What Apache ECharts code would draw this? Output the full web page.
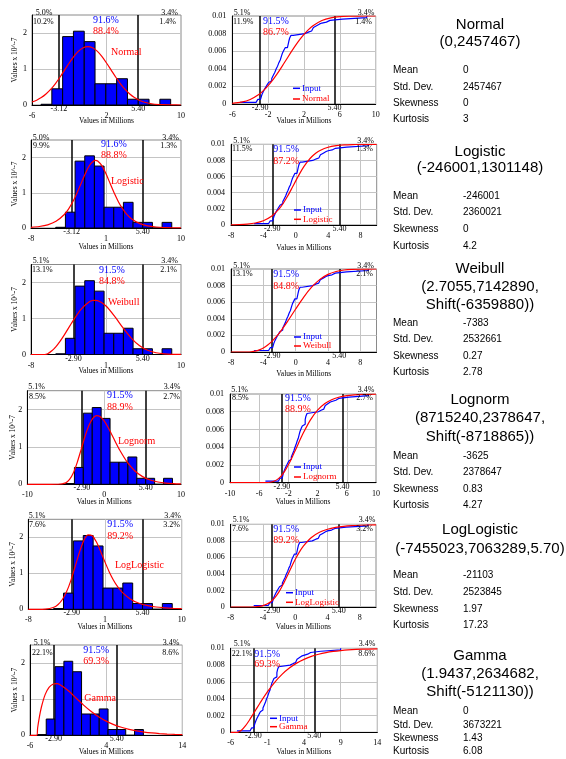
<!DOCTYPE html>
<html><head><meta charset="utf-8">
<script src="https://cdn.jsdelivr.net/npm/echarts@6/dist/echarts.min.js"></script>
<style>html,body{margin:0;padding:0;background:#fff}#c{width:566px;height:759px}</style>
</head><body><div id="c"></div>
<script>
// ================= DATA =================
const distNames = ['Normal','Logistic','Weibull','Lognorm','LogLogistic','Gamma'];
const distParams = [
  ['(0,2457467)'],
  ['(-246001,1301148)'],
  ['(2.7055,7142890,','Shift(-6359880))'],
  ['(8715240,2378647,','Shift(-8718865))'],
  ['(-7455023,7063289,5.70)'],
  ['(1.9437,2634682,','Shift(-5121130))']
];
const statLabels = ['Mean','Std. Dev.','Skewness','Kurtosis'];
const statValues = [
  ['0','2457467','0','3'],
  ['-246001','2360021','0','4.2'],
  ['-7383','2532661','0.27','2.78'],
  ['-3625','2378647','0.83','4.27'],
  ['-21103','2523845','1.97','17.23'],
  ['0','3673221','1.43','6.08']
];

// histogram of the input (x in millions, density in 10^-7)
const histEdges   = [-5.03,-3.87,-2.71,-1.55,-0.39,0.77,1.93,3.09,4.25,5.41,6.57,7.73,8.89];
const histHeights = [0.02,0.45,1.90,2.05,1.76,0.59,0.59,0.73,0.16,0.16,0.00,0.16];

// empirical (input) cumulative curve
const inputCdf = [[-5.15,0.00018],[-3.35,0.00035],[-3.15,0.00052],[-2.85,0.0007],[-2.7,0.00105],[-2.55,0.0014],[-2.4,0.0017],[-2.25,0.00195],[-2.1,0.0022],[-1.95,0.00245],[-1.8,0.00265],[-1.6,0.0029],[-1.45,0.0032],[-1.25,0.0036],[-1.1,0.004],[-0.95,0.0043],[-0.8,0.0047],[-0.65,0.005],[-0.5,0.0055],[-0.4,0.0058],[-0.25,0.0061],[-0.1,0.0064],[0.15,0.0066],[0.3,0.0071],[0.4,0.0075],[0.55,0.0078],[0.8,0.008],[2.1,0.0081],[2.3,0.0082],[2.55,0.0083],[2.85,0.0085],[3.05,0.0087],[3.15,0.0089],[3.4,0.0091],[3.75,0.0092],[4.0,0.0093],[4.5,0.0095],[4.9,0.00965],[6.3,0.00982],[9.0,0.01]];

// fitted densities (10^-7)
const normalPdf = [[-6,0.083],[-5.5,0.133],[-5,0.205],[-4.5,0.304],[-4,0.432],[-3.5,0.589],[-3,0.771],[-2.5,0.968],[-2,1.166],[-1.5,1.348],[-1,1.495],[-0.5,1.591],[0,1.624],[0.5,1.591],[1,1.495],[1.5,1.348],[2,1.166],[2.5,0.968],[3,0.771],[3.5,0.589],[4,0.432],[4.5,0.304],[5,0.205],[5.5,0.133],[6,0.083],[7,0.028],[8,0.008],[9,0.002],[10,0.0]];
const logisticPdf = [[-8,0.020],[-7,0.042],[-6,0.090],[-5,0.189],[-4,0.385],[-3.5,0.538],[-3,0.737],[-2.5,0.981],[-2,1.258],[-1.5,1.536],[-1,1.769],[-0.5,1.903],[-0.25,1.922],[0,1.904],[0.5,1.772],[1,1.540],[1.5,1.262],[2,0.986],[2.5,0.741],[3,0.541],[3.5,0.387],[4,0.273],[5,0.132],[6,0.062],[7,0.029],[8,0.013],[9,0.006],[10,0.003]];
const weibullPdf = [[-8,0],[-6.36,0],[-6,0.023],[-5.5,0.102],[-5,0.221],[-4.5,0.372],[-4,0.545],[-3,0.919],[-2,1.255],[-1,1.466],[-0.5,1.505],[0,1.497],[1,1.348],[2,1.072],[3,0.752],[4,0.464],[5,0.250],[6,0.117],[7,0.048],[8,0.017],[9,0.005],[10,0.001]];
const lognormPdf = [[-10,0],[-7,0],[-6,0.001],[-5,0.039],[-4.5,0.129],[-4,0.309],[-3.5,0.586],[-3,0.926],[-2.5,1.271],[-2,1.561],[-1.5,1.754],[-1,1.833],[-0.5,1.804],[0,1.692],[0.5,1.522],[1,1.323],[1.5,1.118],[2,0.921],[3,0.590],[4,0.355],[5,0.205],[6,0.114],[7,0.062],[8,0.033],[9,0.018],[10,0.009]];
const loglogisticPdf = [[-8,0],[-7,0],[-6,0.005],[-5,0.056],[-4.5,0.133],[-4,0.271],[-3.5,0.492],[-3,0.805],[-2.5,1.189],[-2,1.585],[-1.5,1.905],[-1,2.068],[-0.5,2.045],[0,1.867],[0.5,1.600],[1,1.310],[1.5,1.039],[2,0.808],[2.5,0.621],[3,0.476],[4,0.280],[5,0.167],[6,0.102],[7,0.064],[8,0.042],[9,0.027],[10,0.018]];
const gammaPdf = [[-6,0],[-5.12,0],[-5,0.203],[-4.8,0.471],[-4.5,0.784],[-4,1.133],[-3.5,1.327],[-3,1.415],[-2.5,1.429],[-2,1.393],[-1,1.239],[0,1.041],[1,0.843],[2,0.665],[3,0.515],[4,0.393],[5,0.297],[6,0.222],[7,0.165],[8,0.121],[9,0.089],[10,0.065],[11,0.047],[12,0.034],[13,0.025],[14,0.018]];

// fitted cumulative curves (axis units, top = 0.01)
const normalCdf = [[-6,0.000073],[-5,0.000209],[-4,0.000518],[-3,0.001111],[-2.5,0.001545],[-2,0.002079],[-1.5,0.002708],[-1,0.00342],[-0.5,0.004194],[0,0.005],[0.5,0.005806],[1,0.00658],[1.5,0.007292],[2,0.007921],[2.5,0.008455],[3,0.008889],[4,0.009482],[5,0.009791],[6,0.009927],[7,0.009978],[8,0.009994],[10,0.01]];
const logisticCdf = [[-8,0.000026],[-7,0.000055],[-6,0.000119],[-5,0.000252],[-4,0.000529],[-3,0.001075],[-2,0.002062],[-1.5,0.002761],[-1,0.00359],[-0.5,0.004514],[0,0.005471],[0.5,0.006395],[1,0.007227],[1.5,0.007928],[2,0.00849],[2.5,0.008919],[3,0.009238],[4,0.009632],[5,0.009826],[6,0.009919],[7,0.009962],[8,0.009982],[10,0.009996]];
const weibullCdf = [[-8,0],[-6.36,0],[-6,0.000003],[-5.5,0.000033],[-5,0.000112],[-4.5,0.000259],[-4,0.000487],[-3.5,0.000807],[-3,0.001219],[-2,0.002312],[-1,0.003686],[0,0.005183],[1,0.006619],[2,0.007836],[3,0.008749],[4,0.009351],[5,0.009701],[6,0.009878],[7,0.009957],[8,0.009987],[10,0.01]];
const lognormCdf = [[-10,0],[-7,0],[-6,0.0000001],[-5,0.0000117],[-4.5,0.0000504],[-4,0.000156],[-3.5,0.000376],[-3,0.000752],[-2.5,0.001302],[-2,0.002014],[-1.5,0.002847],[-1,0.003749],[-0.5,0.004661],[0,0.005539],[1,0.007056],[2,0.008175],[3,0.008923],[4,0.009387],[5,0.009661],[6,0.009817],[7,0.009902],[8,0.009948],[10,0.009986]];
const loglogisticCdf = [[-8,0],[-7,0],[-6,0.0000012],[-5,0.0000241],[-4.5,0.0000692],[-4,0.000167],[-3.5,0.000354],[-3,0.000674],[-2.5,0.00117],[-2,0.001865],[-1.5,0.002743],[-1,0.003744],[-0.5,0.00478],[0,0.005763],[0.5,0.006632],[1,0.00736],[2,0.008405],[3,0.009034],[4,0.009403],[5,0.009621],[6,0.009752],[7,0.009834],[8,0.009886],[10,0.00994]];
const gammaCdf = [[-6,0],[-5.12,0],[-5,0.0000128],[-4.5,0.000272],[-4,0.000759],[-3.5,0.001379],[-3,0.002068],[-2.5,0.002782],[-2,0.003489],[-1,0.00481],[0,0.005953],[1,0.006894],[2,0.007645],[3,0.008234],[4,0.008686],[5,0.009031],[6,0.00929],[7,0.009483],[8,0.009625],[9,0.00973],[10,0.009805],[12,0.0099],[14,0.009942]];

const pdfSets = [normalPdf, logisticPdf, weibullPdf, lognormPdf, loglogisticPdf, gammaPdf];
const cdfSets = [normalCdf, logisticCdf, weibullCdf, lognormCdf, loglogisticCdf, gammaCdf];

// axes
const xRanges   = [[-6,10],[-8,10],[-8,10],[-10,10],[-8,10],[-6,14]];
const histXTicks = [[-6,2,10],[-8,1,10],[-8,1,10],[-10,0,10],[-8,1,10],[-6,4,14]];
const cdfXTicks  = [[-6,-2,2,6,10],[-8,-4,0,4,8],[-8,-4,0,4,8],[-10,-6,-2,2,6,10],[-8,-4,0,4,8],[-6,-1,4,9,14]];
const histYTicks = [0,1,2];
const histYMax = 2.5;
const cdfYTicks = [0,0.002,0.004,0.006,0.008,0.01];
const histCuts = [[-3.12,5.40],[-3.12,5.40],[-2.90,5.40],[-2.90,5.40],[-2.90,5.40],[-2.90,5.40]];
const cdfCuts  = [[-2.90,5.40],[-2.90,5.40],[-2.90,5.40],[-2.90,5.40],[-2.90,5.40],[-2.90,5.40]];
// percentages: [above-left, above-right, inside-left, inside-right, input middle, fit middle]
const histPct = [
  ['5.0%','3.4%','10.2%','1.4%','91.6%','88.4%'],
  ['5.0%','3.4%','9.9%','1.3%','91.6%','88.8%'],
  ['5.1%','3.4%','13.1%','2.1%','91.5%','84.8%'],
  ['5.1%','3.4%','8.5%','2.7%','91.5%','88.9%'],
  ['5.1%','3.4%','7.6%','3.2%','91.5%','89.2%'],
  ['5.1%','3.4%','22.1%','8.6%','91.5%','69.3%']
];
const cdfPct = [
  ['5.1%','3.4%','11.9%','1.4%','91.5%','86.7%'],
  ['5.1%','3.4%','11.5%','1.3%','91.5%','87.2%'],
  ['5.1%','3.4%','13.1%','2.1%','91.5%','84.8%'],
  ['5.1%','3.4%','8.5%','2.7%','91.5%','88.9%'],
  ['5.1%','3.4%','7.6%','3.2%','91.5%','89.2%'],
  ['5.1%','3.4%','22.1%','8.6%','91.5%','69.3%']
];

// ================= LAYOUT =================
const histBox = [[32,15,181,105],[31,140,181,228],[31,264.5,181,354.5],[27.3,390.7,181,484.3],[28.3,519.3,181.7,609.3],[30,645,182.3,735.3]];
const cdfBox  = [[232.3,16,375.7,104],[231,144.3,376.7,225],[231,269,376.5,352],[230,394,376,482.7],[230.7,524.3,376,607],[230.7,648.3,377.3,732.3]];
const histTxt = [
  [44,169.5,12.5, 33,176,22, 93,20,31.7],
  [41,170.5,137.5, 33,177,145.7, 101,144,155],
  [41,169.5,261, 32,177,269.5, 99,270,281],
  [36.5,172,387.3, 29,180,397.3, 107,395,407.3],
  [37,172.5,516.2, 29,180,525, 107.3,524.3,536.7],
  [42,171,642.5, 32,179,652.7, 83.3,650,661.7]
];
const cdfTxt = [
  [242,366,12.7, 233,372,22, 263,21.3,32.3],
  [241.5,365.5,140.7, 232,373,149.3, 273.3,149,161],
  [241.5,365.5,265.5, 232,373,274.3, 273.3,274,286],
  [239.5,366,390, 232,373,398.3, 285,398.3,409.3],
  [241,367,520, 232,373,529.3, 273.3,529,540.7],
  [242,367,644.3, 231.7,375,654, 254.3,654,664]
];
const distLabelPos = [[111,52],[111,181.7],[108,302],[118,441.7],[115,565.7],[84.3,698.7]];
const legendPos = [[293,88.3,99],[294,210,219.3],[294,337,346],[294,467,477],[286,592.7,602.3],[270,718.3,726.7]];
const histNameY = [121,246.7,370.7,501.7,627,751.7];
const cdfNameY  = [120.7,247.7,374,501.7,626.7,752];
const panelTitleY = [[25,42],[151.7,168],[269,287,305],[400,418,437],[530,549],[656,674,692]];
const panelStatY  = [[70.7,87.3,103.3,119.3],[196,212.7,229.3,246],[323,339,356,372],[456,472,489,505],[575,592,609,625],[711,725,738,751]];

// ================= BUILD =================
const SERIF = "'Liberation Serif','Times New Roman',serif";
const SANS = "'Liberation Sans',Arial,sans-serif";
const BLUE = '#0000ff', RED = '#ff0000';
const grids=[], xAxes=[], yAxes=[], series=[], graphics=[];

function txt(x,y,text,o){
  o = o||{};
  const al = o.align||'left';
  return {type:'text', x:x, y:y, rotation:o.rotation||0, silent:true, z:50,
    style:{text:text, fill:o.fill||'#000', font:o.font||('8px '+SERIF),
      textAlign:al, align:al, textVerticalAlign:'middle', verticalAlign:'middle'}};
}
function gridOf(b){ return {left:b[0], top:b[1], width:b[2]-b[0], height:b[3]-b[1], show:true, borderColor:'#8a8a8a', borderWidth:1, backgroundColor:'transparent'}; }
function addX(gi, range, ticks, cuts){
  xAxes.push({gridIndex:gi, type:'value', position:'bottom', min:range[0], max:range[1],
    axisLine:{show:true, onZero:false, lineStyle:{color:'#000', width:1}},
    axisTick:{show:false, customValues:ticks},
    axisLabel:{customValues:ticks, margin:7, fontFamily:SERIF, fontSize:8, color:'#000', hideOverlap:false},
    splitLine:{show:true, lineStyle:{color:'#c4c4c4', width:1}}});
  xAxes.push({gridIndex:gi, type:'value', position:'bottom', min:range[0], max:range[1],
    axisLine:{show:false}, axisTick:{show:false, customValues:cuts},
    axisLabel:{customValues:cuts, margin:0, fontFamily:SERIF, fontSize:8, color:'#000',
      formatter:function(v){return v.toFixed(2);}},
    splitLine:{show:false}});
  return xAxes.length-2;
}
function addY(gi, max, ticks, margin){
  yAxes.push({gridIndex:gi, type:'value', min:0, max:max,
    axisLine:{show:true, onZero:false, lineStyle:{color:'#000', width:1}},
    axisTick:{show:false, customValues:ticks},
    axisLabel:{customValues:ticks, margin:margin, fontFamily:SERIF, fontSize:8, color:'#000'},
    splitLine:{show:true, lineStyle:{color:'#c4c4c4', width:1}}});
  return yAxes.length-1;
}

const histData = histHeights.map(function(h,i){ return [histEdges[i], histEdges[i+1], h]; });

for (let i=0;i<6;i++){
  const hg = grids.length; grids.push(gridOf(histBox[i]));
  const hx = addX(hg, xRanges[i], histXTicks[i], histCuts[i]);
  const hy = addY(hg, histYMax, histYTicks, 5);
  series.push({type:'line', xAxisIndex:hx, yAxisIndex:hy, data:[], silent:true,
    markLine:{silent:true, symbol:'none', z:1, label:{show:false},
      lineStyle:{color:'#000', width:1.5, type:'solid'},
      data:histCuts[i].map(function(v){return {xAxis:v};})}});
  series.push({type:'custom', xAxisIndex:hx, yAxisIndex:hy, z:2, clip:true, silent:true,
    encode:{x:[0,1], y:2}, data:histData,
    renderItem:function(params, api){
      const p0 = api.coord([api.value(0), api.value(2)]);
      const p1 = api.coord([api.value(1), 0]);
      return {type:'rect', shape:{x:p0[0], y:p0[1], width:p1[0]-p0[0], height:p1[1]-p0[1]},
        style:{fill:BLUE, stroke:'#000', lineWidth:1}};
    }});
  series.push({type:'line', name:distNames[i], xAxisIndex:hx, yAxisIndex:hy, z:3, data:pdfSets[i],
    smooth:0.25, showSymbol:false, clip:true, silent:true, lineStyle:{color:RED, width:1.2}});

  const cg = grids.length; grids.push(gridOf(cdfBox[i]));
  const cx = addX(cg, xRanges[i], cdfXTicks[i], cdfCuts[i]);
  const cy = addY(cg, 0.01, cdfYTicks, 6);
  series.push({type:'line', xAxisIndex:cx, yAxisIndex:cy, data:[], silent:true,
    markLine:{silent:true, symbol:'none', z:1, label:{show:false},
      lineStyle:{color:'#000', width:1.5, type:'solid'},
      data:cdfCuts[i].map(function(v){return {xAxis:v};})}});
  series.push({type:'line', name:'Input', xAxisIndex:cx, yAxisIndex:cy, z:3, data:inputCdf,
    step:'end', showSymbol:false, clip:true, silent:true, lineStyle:{color:BLUE, width:1.2}});
  series.push({type:'line', name:distNames[i], xAxisIndex:cx, yAxisIndex:cy, z:4, data:cdfSets[i],
    smooth:0.25, showSymbol:false, clip:true, silent:true, lineStyle:{color:RED, width:1.2}});

  const ht = histTxt[i], hp = histPct[i];
  graphics.push(txt(ht[0],ht[2],hp[0],{align:'center'}));
  graphics.push(txt(ht[1],ht[2],hp[1],{align:'center'}));
  graphics.push(txt(ht[3],ht[5],hp[2]));
  graphics.push(txt(ht[4],ht[5],hp[3],{align:'right'}));
  graphics.push(txt(ht[6],ht[7],hp[4],{fill:BLUE, font:'10px '+SERIF}));
  graphics.push(txt(ht[6],ht[8],hp[5],{fill:RED, font:'10px '+SERIF}));
  graphics.push(txt(distLabelPos[i][0],distLabelPos[i][1],distNames[i],{fill:RED, font:'10px '+SERIF}));
  const hb = histBox[i];
  graphics.push(txt((hb[0]+hb[2])/2, histNameY[i], 'Values in Millions',{align:'center', font:'7.5px '+SERIF}));
  graphics.push(txt(i===3||i===4?13.5:15, (hb[1]+hb[3])/2, 'Values x 10^-7',{align:'center', font:'7.5px '+SERIF, rotation:Math.PI/2}));

  const ct = cdfTxt[i], cp = cdfPct[i];
  graphics.push(txt(ct[0],ct[2],cp[0],{align:'center'}));
  graphics.push(txt(ct[1],ct[2],cp[1],{align:'center'}));
  graphics.push(txt(ct[3],ct[5],cp[2]));
  graphics.push(txt(ct[4],ct[5],cp[3],{align:'right'}));
  graphics.push(txt(ct[6],ct[7],cp[4],{fill:BLUE, font:'10px '+SERIF}));
  graphics.push(txt(ct[6],ct[8],cp[5],{fill:RED, font:'10px '+SERIF}));
  const cb = cdfBox[i];
  graphics.push(txt((cb[0]+cb[2])/2, cdfNameY[i], 'Values in Millions',{align:'center', font:'7.5px '+SERIF}));
  const lp = legendPos[i];
  graphics.push({type:'line', silent:true, z:50, shape:{x1:lp[0], y1:lp[1], x2:lp[0]+7, y2:lp[1]}, style:{stroke:BLUE, lineWidth:1.5}});
  graphics.push({type:'line', silent:true, z:50, shape:{x1:lp[0], y1:lp[2], x2:lp[0]+7, y2:lp[2]}, style:{stroke:RED, lineWidth:1.5}});
  graphics.push(txt(lp[0]+9, lp[1], 'Input', {fill:BLUE, font:'9px '+SERIF}));
  graphics.push(txt(lp[0]+9, lp[2], distNames[i], {fill:RED, font:'9px '+SERIF}));

  const ty = panelTitleY[i];
  graphics.push(txt(480, ty[0], distNames[i], {align:'center', font:'15px '+SANS}));
  distParams[i].forEach(function(s,k){ graphics.push(txt(480, ty[k+1], s, {align:'center', font:'15px '+SANS})); });
  const sy = panelStatY[i];
  statLabels.forEach(function(s,k){
    graphics.push(txt(393, sy[k], s, {font:'10px '+SANS}));
    graphics.push(txt(463, sy[k], statValues[i][k], {font:'10px '+SANS}));
  });
}

const chart = echarts.init(document.getElementById('c'), null, {renderer:'canvas'});
chart.setOption({
  animation:false, backgroundColor:'#fff',
  grid:grids, xAxis:xAxes, yAxis:yAxes, series:series, graphic:graphics
});
</script></body></html>
